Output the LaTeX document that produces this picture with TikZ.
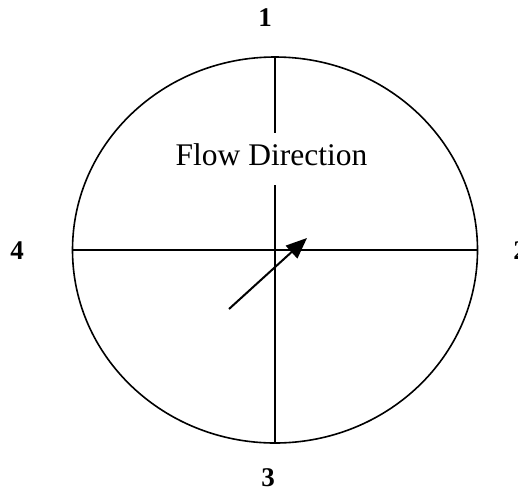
\documentclass[tikz,border=0pt]{standalone}
\usepackage{fontspec}
\setmainfont{Liberation Serif}
\usetikzlibrary{arrows.meta,shapes.geometric}
\begin{document}
\begin{tikzpicture}[x=1pt,y=-1pt,
  ln/.style={line width=2pt},
  num/.style={font=\fontsize{27}{27}\selectfont\bfseries, inner sep=0pt}]
\useasboundingbox (0,0) rectangle (518,493);
\coordinate (c) at (275,250);
\node[draw, ellipse, line width=1.6pt, minimum width=405pt, minimum height=386pt, inner sep=0pt] (el) at (c) {};
\draw[ln] (el.north) -- (el.south);
\draw[ln] (el.west) -- (el.east);
\node[font=\fontsize{31.5}{32}\selectfont, fill=white, inner xsep=2pt, inner ysep=10pt, text depth=10pt, anchor=base] (fd) at (271.5,165) {Flow Direction};
\coordinate (as) at (229,309);
\coordinate (ae) at (307,238);
\draw[ln, -{Triangle[length=21pt,width=17pt]}] (as) -- (ae);
\node[num] (n1) at (265,18) {1};
\node[num] (n2) at (520,251) {2};
\node[num] (n3) at (268,478) {3};
\node[num] (n4) at (17,251) {4};
\end{tikzpicture}
\end{document}
